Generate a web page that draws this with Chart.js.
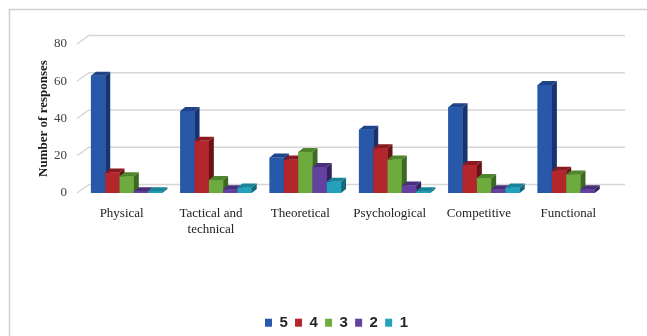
<!DOCTYPE html>
<html>
<head>
<meta charset="utf-8">
<script src="https://cdn.jsdelivr.net/npm/chart.js@4/dist/chart.umd.min.js"></script>
<style>
  html, body { margin: 0; padding: 0; background: #ffffff; }
  #wrap { width: 647px; height: 336px; }
</style>
</head>
<body>
<div id="wrap"><canvas id="chart" width="647" height="336"></canvas></div>
<script>
// Categories of training and response counts per rating (5 = highest)
const categories = ['Physical', ['Tactical and', 'technical'], 'Theoretical', 'Psychological', 'Competitive', 'Functional'];
const ratingLabels = ['5', '4', '3', '2', '1'];
const rating5 = [63, 44, 19, 34, 46, 58];
const rating4 = [11, 28, 18, 24, 15, 12];
const rating3 = [9, 7, 22, 18, 8, 10];
const rating2 = [1, 2, 14, 4, 2, 2];
const rating1 = [1, 3, 6, 1, 3, 0];
const yTicks = [0, 20, 40, 60, 80];

// front, side, top shades for each series
const palette = [
  { front: '#2858aa', side: '#17346f', top: '#1e4388' },
  { front: '#b2262c', side: '#6a1215', top: '#8a1a1f' },
  { front: '#6dab3f', side: '#3c6a20', top: '#4f852c' },
  { front: '#6341a0', side: '#36215f', top: '#4a2e7c' },
  { front: '#23a2bd', side: '#126a7c', top: '#198499' }
];
const seriesValues = [rating5, rating4, rating3, rating2, rating1];

const DX = 5, DY = -4;        // bar depth
const WX = 7, WY = -8.5;      // back wall offset

// light frame around the figure
const framePlugin = {
  id: 'frame',
  beforeDraw(chart) {
    const ctx = chart.ctx;
    ctx.save();
    ctx.fillStyle = '#ffffff';
    ctx.fillRect(0, 0, chart.width, chart.height);
    ctx.strokeStyle = '#cfcfcf';
    ctx.lineWidth = 1.5;
    ctx.strokeRect(9.5, 9.5, chart.width + 20, chart.height + 20);
    ctx.restore();
  }
};

// gridlines on the back wall with the slanted floor edges
const wallPlugin = {
  id: 'wall',
  beforeDatasetsDraw(chart) {
    const { ctx, chartArea: { left, right }, scales: { y } } = chart;
    ctx.save();
    ctx.strokeStyle = '#d6d6d6';
    ctx.lineWidth = 1.5;
    yTicks.forEach(v => {
      const py = y.getPixelForValue(v);
      ctx.beginPath();
      ctx.moveTo(left - 5, py);
      ctx.lineTo(left + WX, py + WY);
      ctx.lineTo(right + WX, py + WY);
      ctx.stroke();
    });
    ctx.restore();
  }
};

// solid columns: front, side and top faces, left to right inside each group
const columnPlugin = {
  id: 'columns',
  afterDatasetsDraw(chart) {
    const ctx = chart.ctx;
    ctx.save();
    chart.data.datasets.forEach((ds, k) => {
      const meta = chart.getDatasetMeta(k);
      const shade = palette[k];
      meta.data.forEach((bar, i) => {
        if (!ds.data[i]) return;
        const { x, y, base, width } = bar.getProps(['x', 'y', 'base', 'width'], true);
        const l = x - width / 2, r = x + width / 2;
        ctx.fillStyle = shade.front;
        ctx.fillRect(l, y, width, base - y);
        ctx.fillStyle = shade.side;
        ctx.beginPath();
        ctx.moveTo(r, y); ctx.lineTo(r + DX, y + DY);
        ctx.lineTo(r + DX, base + DY); ctx.lineTo(r, base);
        ctx.closePath(); ctx.fill();
        ctx.fillStyle = shade.top;
        ctx.beginPath();
        ctx.moveTo(l, y); ctx.lineTo(l + DX, y + DY);
        ctx.lineTo(r + DX, y + DY); ctx.lineTo(r, y);
        ctx.closePath(); ctx.fill();
      });
    });
    ctx.restore();
  }
};

const datasets = ratingLabels.map((lab, k) => ({
  label: lab,
  data: seriesValues[k],
  backgroundColor: palette[k].front,
  borderWidth: 0,
  clip: false,
  categoryPercentage: 0.8,
  barPercentage: 1.0
}));

new Chart(document.getElementById('chart'), {
  type: 'bar',
  data: { labels: categories, datasets },
  options: {
    responsive: false,
    animation: false,
    layout: { padding: { left: 26, right: 0, top: 44, bottom: 0 } },
    plugins: {
      legend: {
        position: 'bottom',
        maxHeight: 28,
        labels: {
          boxWidth: 7,
          boxHeight: 8,
          padding: 7.2,
          color: '#262626',
          font: { family: 'Liberation Sans', size: 15, weight: 'bold' }
        }
      },
      tooltip: { enabled: false }
    },
    scales: {
      x: {
        grid: { display: false },
        border: { display: false },
        ticks: {
          color: '#222222',
          padding: 4,
          labelOffset: -5,
          maxRotation: 0,
          autoSkip: false,
          font: { family: 'Liberation Serif', size: 13, lineHeight: 1.25 }
        },
        afterFit(s) { s.height = 115; }
      },
      y: {
        min: 0,
        max: 80,
        grid: { display: false },
        border: { display: false },
        ticks: {
          stepSize: 20,
          padding: 7,
          color: '#404040',
          font: { family: 'Liberation Serif', size: 13 }
        },
        title: {
          display: true,
          text: 'Number of responses',
          color: '#1a1a1a',
          padding: { top: 10, bottom: 0 },
          font: { family: 'Liberation Serif', size: 13, weight: 'bold' }
        },
        afterFit(s) { s.width = 56; }
      },
      spacer: {
        position: 'right',
        display: true,
        grid: { display: false },
        border: { display: false },
        ticks: { display: false },
        afterFit(s) { s.width = 29; }
      }
    }
  },
  plugins: [framePlugin, wallPlugin, columnPlugin]
});
</script>
</body>
</html>
